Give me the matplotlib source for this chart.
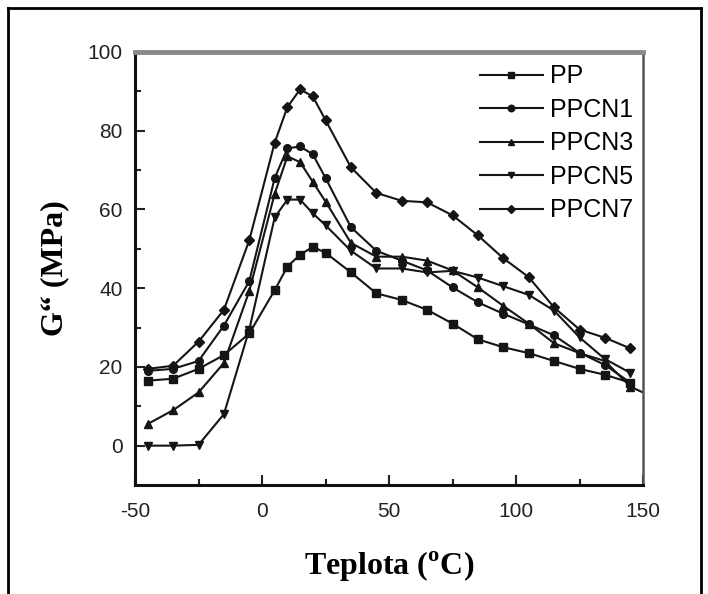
import matplotlib
matplotlib.use('Agg')
import matplotlib.pyplot as plt
from matplotlib.lines import Line2D

plt.rcParams['font.family'] = ['Liberation Sans', 'DejaVu Sans']
plt.rcParams['axes.unicode_minus'] = False
plt.rcParams['mathtext.fontset'] = 'custom'
plt.rcParams['mathtext.rm'] = 'Liberation Serif:bold'

# temperature points (°C)
temp = [-45, -35, -25, -15, -5, 5, 10, 15, 20, 25, 35, 45, 55, 65, 75, 85, 95, 105, 115, 125, 135, 145]

pp = [16.5, 17, 19.5, 23, 28.5, 39.5, 45.5, 48.5, 50.5, 49, 44, 38.7, 37, 34.5, 31, 27, 25, 23.5, 21.5, 19.5, 18, 16]
ppcn1 = [19, 19.5, 21.5, 30.5, 41.8, 68, 75.5, 76, 74, 68, 55.5, 49.5, 47, 44.5, 40.2, 36.4, 33.5, 30.8, 28, 23.6, 20.5, 16]
ppcn3 = [5.5, 9, 13.5, 21, 39.3, 64, 73.5, 72, 67, 62, 51.5, 48, 48, 47, 44.5, 40.2, 35.5, 31, 26, 23.5, 21.5, 15, 13.5]
ppcn5 = [0, 0, 0.2, 8, 29.5, 58, 62.5, 62.5, 59, 56, 49.5, 45, 45, 44, 44.4, 42.7, 40.5, 38.3, 34.3, 27.5, 22, 18.5]
ppcn7 = [19.5, 20.3, 26.4, 34.5, 52.2, 77, 86, 90.5, 88.7, 82.7, 70.7, 64.2, 62.2, 61.8, 58.5, 53.4, 47.6, 42.8, 35.1, 29.5, 27.4, 24.7]
temp3 = temp + [150]   # PPCN3 runs out to the edge

labels = ['PP', 'PPCN1', 'PPCN3', 'PPCN5', 'PPCN7']
markers = ['s', 'o', '^', 'v', 'D']

fig = plt.figure(figsize=(7.08, 5.94), dpi=100)
ax = fig.add_axes([0.1907, 0.1835, 0.7175, 0.729])

series = [(temp, pp), (temp, ppcn1), (temp3, ppcn3), (temp, ppcn5), (temp, ppcn7)]
for (x, y), lab, m in zip(series, labels, markers):
    ax.plot(x, y, color='#151515', lw=1.5, marker=m, ms=5.5 if m != 'D' else 5,
            markevery=list(range(len(temp))), label=lab)

ax.set_xlim(-50, 150)
ax.set_ylim(-10, 100)
ax.set_xticks([-50, 0, 50, 100, 150])
ax.set_xticks([-25, 25, 75, 125], minor=True)
ax.set_yticks([0, 20, 40, 60, 80, 100])
ax.set_yticks([10, 30, 50, 70, 90], minor=True)
ax.tick_params(which='both', direction='in', width=1.5, labelsize=15, colors='#222222')
ax.tick_params(which='major', length=7)
ax.tick_params(which='minor', length=4)
ax.tick_params(axis='x', pad=12)
ax.tick_params(axis='y', pad=9)

for s in ['left', 'bottom']:
    ax.spines[s].set_linewidth(2.2)
    ax.spines[s].set_color('#111111')
ax.spines['top'].set_linewidth(3.5)
ax.spines['top'].set_color('#8a8a8a')
ax.spines['right'].set_linewidth(1.8)
ax.spines['right'].set_color('#555555')

ax.set_xlabel(r'Teplota ($^{\rm o}$C)', family='Liberation Serif', weight='bold', fontsize=23)
ax.set_ylabel('G\u201c (MPa)', family='Liberation Serif', weight='bold', fontsize=23)
ax.xaxis.set_label_coords(0.5, -0.15)
ax.yaxis.set_label_coords(-0.13, 0.5)

ax.legend(loc='upper left', bbox_to_anchor=(0.655, 1.0), frameon=False, fontsize=18,
          handlelength=2.5, handletextpad=0.3, labelspacing=0.38, borderpad=0,
          markerscale=0.85)

# frame around the picture
fig.add_artist(Line2D([0.012, 0.012], [0, 0.987], transform=fig.transFigure, color='black', lw=2))
fig.add_artist(Line2D([0.012, 0.99], [0.987, 0.987], transform=fig.transFigure, color='black', lw=2))
fig.add_artist(Line2D([0.99, 0.99], [0, 0.987], transform=fig.transFigure, color='black', lw=2))

fig.savefig('out.png', dpi=100)
